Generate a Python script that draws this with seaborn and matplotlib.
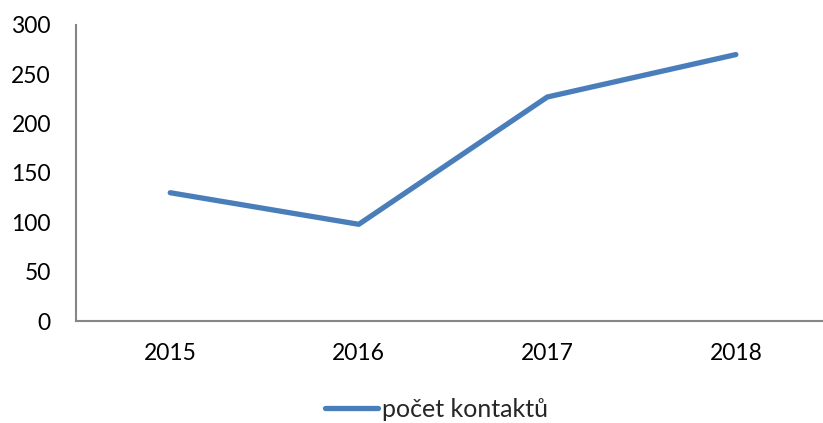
import pandas as pd
import matplotlib.pyplot as plt
import seaborn as sns

years = ["2015", "2016", "2017", "2018"]
kontakty = [130, 98, 227, 270]
series_name = "počet kontaktů"

df = pd.DataFrame({"rok": years, series_name: kontakty})

sns.set_style("white")
plt.rcParams['font.family'] = ['Lato', 'DejaVu Sans']

fig = plt.figure(figsize=(8.23, 4.23), dpi=100)
ax = fig.add_axes([0.0923, 0.2411, 0.9065, 0.6999])

sns.lineplot(data=df, x="rok", y=series_name, ax=ax, color="#4a7ebb",
             linewidth=3.8, solid_capstyle="round", label=series_name)

ax.set_ylim(0, 300)
ax.set_yticks(range(0, 301, 50))
ax.set_xlim(-0.5, 3.457)
ax.set_xlabel("")
ax.set_ylabel("")
ax.tick_params(axis="both", length=0, labelsize=16.5, colors="black")
ax.tick_params(axis="y", pad=18)
ax.tick_params(axis="x", pad=16)

for side in ["top", "right"]:
    ax.spines[side].set_visible(False)
for side in ["left", "bottom"]:
    ax.spines[side].set_color("#868686")
    ax.spines[side].set_linewidth(1.5)

leg = ax.legend(loc="center", bbox_to_anchor=(0.483, -0.298), frameon=False,
                fontsize=18, handlelength=2.15, handletextpad=0.15,
                borderpad=0.2)

fig.savefig("out.png", dpi=100)
